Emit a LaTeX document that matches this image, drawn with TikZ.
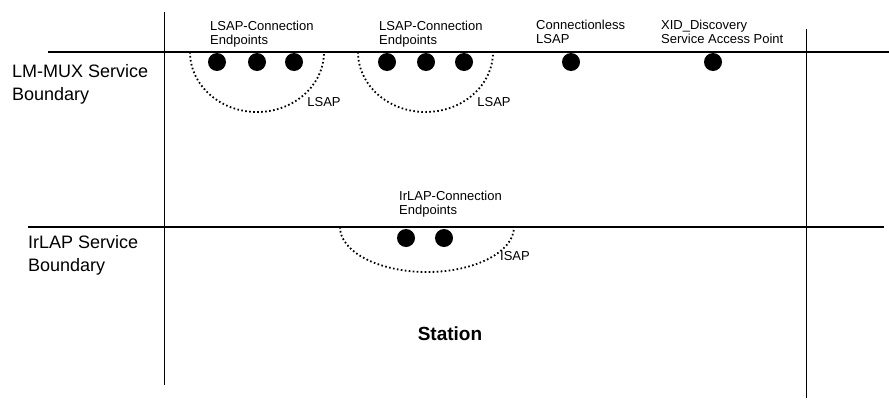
\documentclass[tikz,border=0pt]{standalone}
\usepackage{fontspec}
\setmainfont{Liberation Sans}
\newcommand{\smallfont}{\fontsize{13}{14.5}\selectfont}
\newcommand{\bigfont}{\fontsize{18}{23}\selectfont}

\begin{document}
\begin{tikzpicture}[x=1pt, y=-1pt,
        endpoint/.style={circle, fill=black, inner sep=0pt, minimum size=18pt},
        sap/.style={line width=1.8pt, dash pattern=on 1.6pt off 2.4pt},
        boundary/.style={line width=1.3pt},
        side/.style={line width=0.9pt},
        lbl/.style={inner sep=0pt, anchor=north west, align=left, font=\smallfont},
        boundlbl/.style={inner sep=0pt, anchor=north west, align=left, font=\bigfont}]
    \useasboundingbox (0, 0) rectangle (889, 399);

    % station edges and the two service boundaries
    \coordinate (leftTop) at (164, 12);
    \coordinate (leftBot) at (164, 385);
    \coordinate (rightTop) at (806, 29);
    \coordinate (rightBot) at (806, 398);
    \coordinate (muxL) at (48, 52);
    \coordinate (muxR) at (889, 52);
    \coordinate (lapL) at (28, 227);
    \coordinate (lapR) at (884, 227);
    \draw[side] (leftTop) -- (leftBot);
    \draw[side] (rightTop) -- (rightBot);
    \draw[boundary] (muxL) -- (muxR);
    \draw[boundary] (lapL) -- (lapR);

    \node[boundlbl] (muxLbl) at (12, 64) {LM-MUX Service\\Boundary};
    \node[boundlbl] (lapLbl) at (28, 235) {IrLAP Service\\Boundary};

    % LM-MUX service access points
    \draw[sap] (190, 52) arc[start angle=180, end angle=360, x radius=67pt, y radius=60pt];
    \node[endpoint] (ep1) at (217, 62) {};
    \node[endpoint] (ep2) at (257, 62) {};
    \node[endpoint] (ep3) at (294, 62) {};
    \node[lbl] (epLbl1) at (210, 20.5) {LSAP-Connection\\Endpoints};
    \node[font=\smallfont, inner sep=0pt] (lsap1) at (324, 102) {LSAP};

    \draw[sap] (358, 52) arc[start angle=180, end angle=360, x radius=67.5pt, y radius=60pt];
    \node[endpoint] (ep4) at (387, 62) {};
    \node[endpoint] (ep5) at (426, 62) {};
    \node[endpoint] (ep6) at (464, 62) {};
    \node[lbl] (epLbl2) at (379, 20.5) {LSAP-Connection\\Endpoints};
    \node[font=\smallfont, inner sep=0pt] (lsap2) at (494, 102) {LSAP};

    \node[endpoint] (cl) at (571, 62) {};
    \node[lbl] (clLbl) at (536, 19.5) {Connectionless\\LSAP};

    \node[endpoint] (xid) at (713, 62) {};
    \node[lbl] (xidLbl) at (661, 19.5) {XID\_Discovery\\Service Access Point};

    % IrLAP service access point
    \draw[sap] (340, 227) arc[start angle=180, end angle=360, x radius=87pt, y radius=45pt];
    \node[endpoint] (lap1) at (406, 238) {};
    \node[endpoint] (lap2) at (444, 238) {};
    \node[lbl] (lapEpLbl) at (399, 190.5) {IrLAP-Connection\\Endpoints};
    \node[font=\smallfont, inner sep=0pt] (isap) at (515, 256) {ISAP};

    \node[font=\fontsize{19}{22}\selectfont\bfseries, anchor=base] (station) at (450, 340) {Station};
\end{tikzpicture}
\end{document}
